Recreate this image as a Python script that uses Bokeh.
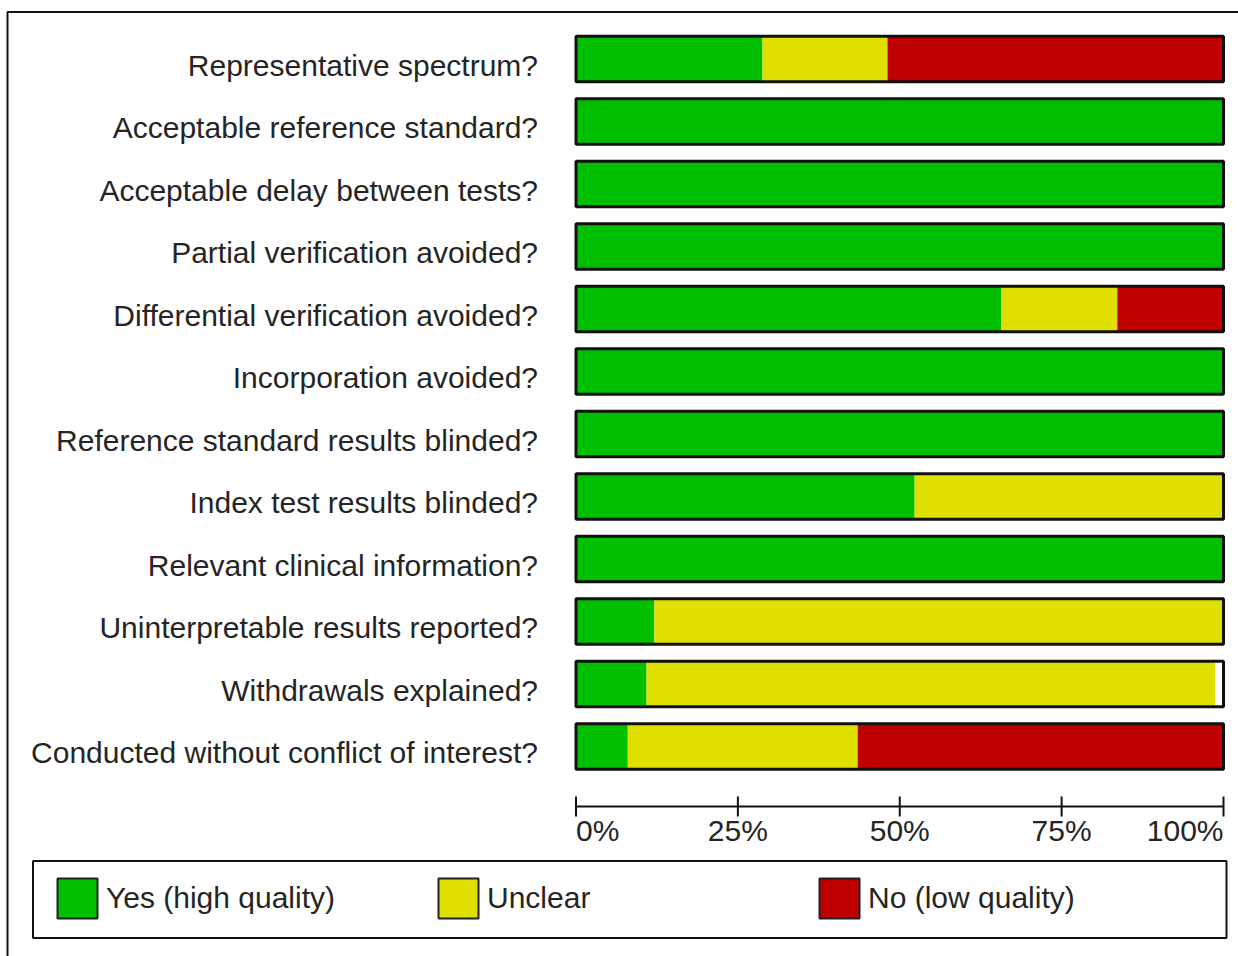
import math
from bokeh.plotting import figure
from bokeh.models import Range1d, Legend, LegendItem, BoxAnnotation
from bokeh.core.properties import value
from bokeh.embed import file_html
from bokeh.resources import INLINE

# ---------------- data ----------------
categories = [
    "Representative spectrum?",
    "Acceptable reference standard?",
    "Acceptable delay between tests?",
    "Partial verification avoided?",
    "Differential verification avoided?",
    "Incorporation avoided?",
    "Reference standard results blinded?",
    "Index test results blinded?",
    "Relevant clinical information?",
    "Uninterpretable results reported?",
    "Withdrawals explained?",
    "Conducted without conflict of interest?",
]
yes_pct = [28.8, 100, 100, 100, 65.7, 100, 100, 52.3, 100, 12.1, 10.9, 8.0]
unclear_pct = [19.3, 0, 0, 0, 17.9, 0, 0, 47.7, 0, 87.9, 87.8, 35.5]
no_pct = [51.9, 0, 0, 0, 16.4, 0, 0, 0, 0, 0, 0, 56.5]

tick_values = [0, 25, 50, 75, 100]
tick_labels = ["0%", "25%", "50%", "75%", "100%"]
legend_labels = ["Yes (high quality)", "Unclear", "No (low quality)"]
colors = ["#00BF00", "#E0E000", "#C00000"]

# ---------------- layout ----------------
W, H = 1238, 956
X0_PX, X100_PX = 575.5, 1223.0       # canvas px of 0% and 100%
ROW0_PX, ROW_STEP = 58.5, 62.5       # canvas px of first row centre, row pitch
px_per = (X100_PX - X0_PX) / 100.0

x_range = Range1d(-X0_PX / px_per, 100 + (W - X100_PX) / px_per)
y_range = Range1d((H - ROW0_PX) / ROW_STEP, -ROW0_PX / ROW_STEP)

FONT_NAME = "Liberation Sans"
FONT = value(FONT_NAME)
TXT = "#252525"
LINE = "#111111"
BAR_H = 0.73

p = figure(width=W, height=H, x_range=x_range, y_range=y_range,
           output_backend="svg", toolbar_location=None,
           x_axis_location=None, y_axis_location=None,
           min_border=0, min_border_left=0, min_border_right=0,
           min_border_top=0, min_border_bottom=0)
p.grid.visible = False
p.outline_line_color = None
p.background_fill_color = "white"
p.border_fill_color = "white"

# outer frame (its right and bottom edges lie outside the window)
p.add_layout(BoxAnnotation(left=7, right=W + 20, top=H - 11.5, bottom=-20,
                           left_units="screen", right_units="screen",
                           top_units="screen", bottom_units="screen",
                           fill_alpha=0, line_color=LINE, line_width=2,
                           line_alpha=1))

idx = list(range(len(categories)))
left = [0.0] * len(categories)
stack = []
for vals, col in zip([yes_pct, unclear_pct, no_pct], colors):
    right = [l + v for l, v in zip(left, vals)]
    stack.append((left, right, col))
    p.hbar(y=idx, left=left, right=right, height=BAR_H,
           fill_color=col, line_color=None)
    left = right

# bar outlines (full 0-100 % frame)
p.hbar(y=idx, left=[0] * len(idx), right=[100] * len(idx), height=BAR_H,
       fill_color=None, line_color=LINE, line_width=3)

# category labels
p.text(x=[0] * len(idx), y=idx, text=categories, x_offset=-38, y_offset=6,
       text_align="right", text_baseline="middle",
       text_font=FONT, text_font_size="30px", text_color=TXT)

# percentage axis
AXIS_Y = len(categories) - 1 + 60 / ROW_STEP
p.segment(x0=[tick_values[0]], y0=[AXIS_Y], x1=[tick_values[-1]], y1=[AXIS_Y],
          line_color=LINE, line_width=2)
p.scatter(x=tick_values, y=[AXIS_Y] * len(tick_values), marker="dash",
          angle=math.pi / 2, size=20, line_color=LINE, line_width=2)
groups = [([0], "left"), ([1, 2, 3], "center"), ([4], "right")]
for ids, al in groups:
    p.text(x=[tick_values[i] for i in ids], y=[AXIS_Y] * len(ids),
           text=[tick_labels[i] for i in ids], y_offset=24,
           text_align=al, text_baseline="alphabetic",
           text_font=FONT, text_font_size="30px", text_color=TXT)

# legend frame
p.add_layout(BoxAnnotation(left=32.5, right=1226, top=H - 860.5, bottom=H - 937.5,
                           left_units="screen", right_units="screen",
                           top_units="screen", bottom_units="screen",
                           fill_color="white", fill_alpha=1,
                           line_color=LINE, line_width=2, line_alpha=1))

# legend (swatches drawn from hidden, outlined copies of the stacked bars)
leg_renderers = [p.hbar(y=idx, left=l, right=r, height=BAR_H, fill_color=c,
                        line_color="#222222", line_width=2, visible=False)
                 for l, r, c in stack]
legend = Legend(items=[LegendItem(label=lab, renderers=[r])
                       for lab, r in zip(legend_labels, leg_renderers)],
                orientation="horizontal", location=(52, 33),
                glyph_width=50, glyph_height=50, label_width=327,
                label_standoff=4, spacing=0, padding=0, margin=0,
                border_line_color=None, background_fill_alpha=0,
                inactive_fill_alpha=0,
                label_text_font=FONT_NAME, label_text_font_size="30px",
                label_text_color=TXT)
p.add_layout(legend, "center")

open("out.html", "w").write(file_html(p, INLINE))
